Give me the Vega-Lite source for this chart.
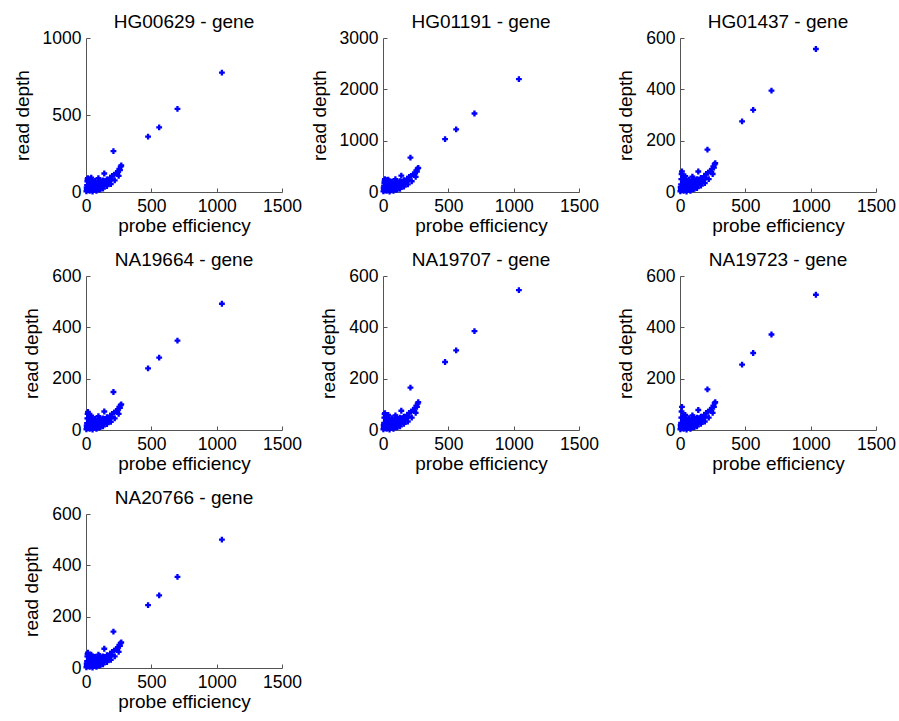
{
"$schema": "https://vega.github.io/schema/vega-lite/v6.json",
"background": "white",
"padding": {"left": 13, "top": 13, "right": 5, "bottom": 5},
"data": {"values": [
{"s":"HG00629","pe":3,"rd":5},{"s":"HG00629","pe":6,"rd":18},{"s":"HG00629","pe":8,"rd":45},{"s":"HG00629","pe":10,"rd":70},{"s":"HG00629","pe":12,"rd":85},{"s":"HG00629","pe":15,"rd":90},{"s":"HG00629","pe":15,"rd":12},{"s":"HG00629","pe":20,"rd":30},{"s":"HG00629","pe":22,"rd":60},{"s":"HG00629","pe":25,"rd":80},{"s":"HG00629","pe":28,"rd":8},{"s":"HG00629","pe":30,"rd":42},{"s":"HG00629","pe":35,"rd":68},{"s":"HG00629","pe":38,"rd":22},{"s":"HG00629","pe":45,"rd":45},{"s":"HG00629","pe":48,"rd":75},{"s":"HG00629","pe":55,"rd":15},{"s":"HG00629","pe":58,"rd":57},{"s":"HG00629","pe":65,"rd":33},{"s":"HG00629","pe":70,"rd":72},{"s":"HG00629","pe":78,"rd":48},{"s":"HG00629","pe":85,"rd":22},{"s":"HG00629","pe":90,"rd":68},{"s":"HG00629","pe":100,"rd":42},{"s":"HG00629","pe":105,"rd":78},{"s":"HG00629","pe":115,"rd":57},{"s":"HG00629","pe":125,"rd":33},{"s":"HG00629","pe":130,"rd":75},{"s":"HG00629","pe":140,"rd":120},{"s":"HG00629","pe":145,"rd":60},{"s":"HG00629","pe":160,"rd":82},{"s":"HG00629","pe":175,"rd":72},{"s":"HG00629","pe":185,"rd":93},{"s":"HG00629","pe":200,"rd":105},{"s":"HG00629","pe":215,"rd":112},{"s":"HG00629","pe":230,"rd":123},{"s":"HG00629","pe":245,"rd":135},{"s":"HG00629","pe":255,"rd":150},{"s":"HG00629","pe":265,"rd":165},{"s":"HG00629","pe":270,"rd":172},{"s":"HG00629","pe":40,"rd":93},{"s":"HG00629","pe":60,"rd":12},{"s":"HG00629","pe":95,"rd":90},{"s":"HG00629","pe":110,"rd":18},{"s":"HG00629","pe":50,"rd":3},{"s":"HG00629","pe":80,"rd":8},{"s":"HG00629","pe":100,"rd":15},{"s":"HG00629","pe":130,"rd":22},{"s":"HG00629","pe":160,"rd":38},{"s":"HG00629","pe":190,"rd":52},{"s":"HG00629","pe":220,"rd":75},{"s":"HG00629","pe":250,"rd":105},
{"s":"HG00629","pe":5,"rd":30},{"s":"HG00629","pe":18,"rd":75},{"s":"HG00629","pe":32,"rd":82},{"s":"HG00629","pe":42,"rd":57},{"s":"HG00629","pe":52,"rd":38},{"s":"HG00629","pe":62,"rd":63},{"s":"HG00629","pe":72,"rd":18},{"s":"HG00629","pe":75,"rd":57},{"s":"HG00629","pe":88,"rd":42},{"s":"HG00629","pe":98,"rd":60},{"s":"HG00629","pe":108,"rd":33},{"s":"HG00629","pe":120,"rd":68},{"s":"HG00629","pe":135,"rd":45},{"s":"HG00629","pe":150,"rd":72},{"s":"HG00629","pe":170,"rd":57},{"s":"HG00629","pe":195,"rd":82},{"s":"HG00629","pe":240,"rd":117},{"s":"HG00629","pe":260,"rd":142},
{"s":"HG00629","pe":210,"rd":265},{"s":"HG00629","pe":475,"rd":360},{"s":"HG00629","pe":560,"rd":420},{"s":"HG00629","pe":700,"rd":540},{"s":"HG00629","pe":1040,"rd":775},
{"s":"HG01191","pe":3,"rd":12},{"s":"HG01191","pe":6,"rd":50},{"s":"HG01191","pe":8,"rd":125},{"s":"HG01191","pe":10,"rd":180},{"s":"HG01191","pe":12,"rd":220},{"s":"HG01191","pe":15,"rd":250},{"s":"HG01191","pe":15,"rd":34},{"s":"HG01191","pe":20,"rd":84},{"s":"HG01191","pe":22,"rd":168},{"s":"HG01191","pe":25,"rd":220},{"s":"HG01191","pe":28,"rd":21},{"s":"HG01191","pe":30,"rd":118},{"s":"HG01191","pe":35,"rd":189},{"s":"HG01191","pe":38,"rd":63},{"s":"HG01191","pe":45,"rd":126},{"s":"HG01191","pe":48,"rd":210},{"s":"HG01191","pe":55,"rd":42},{"s":"HG01191","pe":58,"rd":160},{"s":"HG01191","pe":65,"rd":92},{"s":"HG01191","pe":70,"rd":200},{"s":"HG01191","pe":78,"rd":134},{"s":"HG01191","pe":85,"rd":63},{"s":"HG01191","pe":90,"rd":189},{"s":"HG01191","pe":100,"rd":118},{"s":"HG01191","pe":105,"rd":218},{"s":"HG01191","pe":115,"rd":160},{"s":"HG01191","pe":125,"rd":92},{"s":"HG01191","pe":130,"rd":210},{"s":"HG01191","pe":140,"rd":320},{"s":"HG01191","pe":145,"rd":168},{"s":"HG01191","pe":160,"rd":231},{"s":"HG01191","pe":175,"rd":200},{"s":"HG01191","pe":185,"rd":260},{"s":"HG01191","pe":200,"rd":294},{"s":"HG01191","pe":215,"rd":315},{"s":"HG01191","pe":230,"rd":344},{"s":"HG01191","pe":245,"rd":378},{"s":"HG01191","pe":255,"rd":420},{"s":"HG01191","pe":265,"rd":454},{"s":"HG01191","pe":270,"rd":470},{"s":"HG01191","pe":40,"rd":240},{"s":"HG01191","pe":60,"rd":34},{"s":"HG01191","pe":95,"rd":252},{"s":"HG01191","pe":110,"rd":50},{"s":"HG01191","pe":50,"rd":8},{"s":"HG01191","pe":80,"rd":21},{"s":"HG01191","pe":100,"rd":42},{"s":"HG01191","pe":130,"rd":63},{"s":"HG01191","pe":160,"rd":105},{"s":"HG01191","pe":190,"rd":147},{"s":"HG01191","pe":220,"rd":210},{"s":"HG01191","pe":250,"rd":294},
{"s":"HG01191","pe":5,"rd":84},{"s":"HG01191","pe":18,"rd":210},{"s":"HG01191","pe":32,"rd":231},{"s":"HG01191","pe":42,"rd":160},{"s":"HG01191","pe":52,"rd":105},{"s":"HG01191","pe":62,"rd":176},{"s":"HG01191","pe":72,"rd":50},{"s":"HG01191","pe":75,"rd":160},{"s":"HG01191","pe":88,"rd":118},{"s":"HG01191","pe":98,"rd":168},{"s":"HG01191","pe":108,"rd":92},{"s":"HG01191","pe":120,"rd":189},{"s":"HG01191","pe":135,"rd":126},{"s":"HG01191","pe":150,"rd":202},{"s":"HG01191","pe":170,"rd":160},{"s":"HG01191","pe":195,"rd":231},{"s":"HG01191","pe":240,"rd":328},{"s":"HG01191","pe":260,"rd":399},
{"s":"HG01191","pe":210,"rd":670},{"s":"HG01191","pe":475,"rd":1030},{"s":"HG01191","pe":560,"rd":1220},{"s":"HG01191","pe":700,"rd":1530},{"s":"HG01191","pe":1040,"rd":2200},
{"s":"HG01437","pe":3,"rd":3},{"s":"HG01437","pe":6,"rd":12},{"s":"HG01437","pe":8,"rd":30},{"s":"HG01437","pe":10,"rd":50},{"s":"HG01437","pe":12,"rd":70},{"s":"HG01437","pe":15,"rd":80},{"s":"HG01437","pe":15,"rd":8},{"s":"HG01437","pe":20,"rd":20},{"s":"HG01437","pe":22,"rd":40},{"s":"HG01437","pe":25,"rd":60},{"s":"HG01437","pe":28,"rd":5},{"s":"HG01437","pe":30,"rd":28},{"s":"HG01437","pe":35,"rd":45},{"s":"HG01437","pe":38,"rd":15},{"s":"HG01437","pe":45,"rd":30},{"s":"HG01437","pe":48,"rd":50},{"s":"HG01437","pe":55,"rd":10},{"s":"HG01437","pe":58,"rd":38},{"s":"HG01437","pe":65,"rd":22},{"s":"HG01437","pe":70,"rd":48},{"s":"HG01437","pe":78,"rd":32},{"s":"HG01437","pe":85,"rd":15},{"s":"HG01437","pe":90,"rd":45},{"s":"HG01437","pe":100,"rd":28},{"s":"HG01437","pe":105,"rd":52},{"s":"HG01437","pe":115,"rd":38},{"s":"HG01437","pe":125,"rd":22},{"s":"HG01437","pe":130,"rd":50},{"s":"HG01437","pe":140,"rd":80},{"s":"HG01437","pe":145,"rd":40},{"s":"HG01437","pe":160,"rd":55},{"s":"HG01437","pe":175,"rd":48},{"s":"HG01437","pe":185,"rd":62},{"s":"HG01437","pe":200,"rd":70},{"s":"HG01437","pe":215,"rd":75},{"s":"HG01437","pe":230,"rd":82},{"s":"HG01437","pe":245,"rd":90},{"s":"HG01437","pe":255,"rd":100},{"s":"HG01437","pe":265,"rd":108},{"s":"HG01437","pe":270,"rd":112},{"s":"HG01437","pe":40,"rd":62},{"s":"HG01437","pe":60,"rd":8},{"s":"HG01437","pe":95,"rd":60},{"s":"HG01437","pe":110,"rd":12},{"s":"HG01437","pe":50,"rd":2},{"s":"HG01437","pe":80,"rd":5},{"s":"HG01437","pe":100,"rd":10},{"s":"HG01437","pe":130,"rd":15},{"s":"HG01437","pe":160,"rd":25},{"s":"HG01437","pe":190,"rd":35},{"s":"HG01437","pe":220,"rd":50},{"s":"HG01437","pe":250,"rd":70},
{"s":"HG01437","pe":5,"rd":20},{"s":"HG01437","pe":18,"rd":50},{"s":"HG01437","pe":32,"rd":55},{"s":"HG01437","pe":42,"rd":38},{"s":"HG01437","pe":52,"rd":25},{"s":"HG01437","pe":62,"rd":42},{"s":"HG01437","pe":72,"rd":12},{"s":"HG01437","pe":75,"rd":38},{"s":"HG01437","pe":88,"rd":28},{"s":"HG01437","pe":98,"rd":40},{"s":"HG01437","pe":108,"rd":22},{"s":"HG01437","pe":120,"rd":45},{"s":"HG01437","pe":135,"rd":30},{"s":"HG01437","pe":150,"rd":48},{"s":"HG01437","pe":170,"rd":38},{"s":"HG01437","pe":195,"rd":55},{"s":"HG01437","pe":240,"rd":78},{"s":"HG01437","pe":260,"rd":95},
{"s":"HG01437","pe":210,"rd":165},{"s":"HG01437","pe":475,"rd":275},{"s":"HG01437","pe":560,"rd":320},{"s":"HG01437","pe":700,"rd":395},{"s":"HG01437","pe":1040,"rd":557},
{"s":"NA19664","pe":3,"rd":3},{"s":"NA19664","pe":6,"rd":11},{"s":"NA19664","pe":8,"rd":27},{"s":"NA19664","pe":10,"rd":45},{"s":"NA19664","pe":12,"rd":63},{"s":"NA19664","pe":15,"rd":70},{"s":"NA19664","pe":15,"rd":7},{"s":"NA19664","pe":20,"rd":18},{"s":"NA19664","pe":22,"rd":36},{"s":"NA19664","pe":25,"rd":54},{"s":"NA19664","pe":28,"rd":5},{"s":"NA19664","pe":30,"rd":25},{"s":"NA19664","pe":35,"rd":40},{"s":"NA19664","pe":38,"rd":14},{"s":"NA19664","pe":45,"rd":27},{"s":"NA19664","pe":48,"rd":45},{"s":"NA19664","pe":55,"rd":9},{"s":"NA19664","pe":58,"rd":34},{"s":"NA19664","pe":65,"rd":20},{"s":"NA19664","pe":70,"rd":43},{"s":"NA19664","pe":78,"rd":29},{"s":"NA19664","pe":85,"rd":14},{"s":"NA19664","pe":90,"rd":40},{"s":"NA19664","pe":100,"rd":25},{"s":"NA19664","pe":105,"rd":47},{"s":"NA19664","pe":115,"rd":34},{"s":"NA19664","pe":125,"rd":20},{"s":"NA19664","pe":130,"rd":45},{"s":"NA19664","pe":140,"rd":72},{"s":"NA19664","pe":145,"rd":36},{"s":"NA19664","pe":160,"rd":50},{"s":"NA19664","pe":175,"rd":43},{"s":"NA19664","pe":185,"rd":56},{"s":"NA19664","pe":200,"rd":63},{"s":"NA19664","pe":215,"rd":68},{"s":"NA19664","pe":230,"rd":74},{"s":"NA19664","pe":245,"rd":81},{"s":"NA19664","pe":255,"rd":90},{"s":"NA19664","pe":265,"rd":97},{"s":"NA19664","pe":270,"rd":100},{"s":"NA19664","pe":40,"rd":56},{"s":"NA19664","pe":60,"rd":7},{"s":"NA19664","pe":95,"rd":54},{"s":"NA19664","pe":110,"rd":11},{"s":"NA19664","pe":50,"rd":2},{"s":"NA19664","pe":80,"rd":5},{"s":"NA19664","pe":100,"rd":9},{"s":"NA19664","pe":130,"rd":14},{"s":"NA19664","pe":160,"rd":23},{"s":"NA19664","pe":190,"rd":32},{"s":"NA19664","pe":220,"rd":45},{"s":"NA19664","pe":250,"rd":63},
{"s":"NA19664","pe":5,"rd":18},{"s":"NA19664","pe":18,"rd":45},{"s":"NA19664","pe":32,"rd":50},{"s":"NA19664","pe":42,"rd":34},{"s":"NA19664","pe":52,"rd":23},{"s":"NA19664","pe":62,"rd":38},{"s":"NA19664","pe":72,"rd":11},{"s":"NA19664","pe":75,"rd":34},{"s":"NA19664","pe":88,"rd":25},{"s":"NA19664","pe":98,"rd":36},{"s":"NA19664","pe":108,"rd":20},{"s":"NA19664","pe":120,"rd":41},{"s":"NA19664","pe":135,"rd":27},{"s":"NA19664","pe":150,"rd":43},{"s":"NA19664","pe":170,"rd":34},{"s":"NA19664","pe":195,"rd":50},{"s":"NA19664","pe":240,"rd":70},{"s":"NA19664","pe":260,"rd":86},
{"s":"NA19664","pe":210,"rd":148},{"s":"NA19664","pe":475,"rd":240},{"s":"NA19664","pe":560,"rd":282},{"s":"NA19664","pe":700,"rd":348},{"s":"NA19664","pe":1040,"rd":492},
{"s":"NA19707","pe":3,"rd":3},{"s":"NA19707","pe":6,"rd":11},{"s":"NA19707","pe":8,"rd":28},{"s":"NA19707","pe":10,"rd":48},{"s":"NA19707","pe":12,"rd":62},{"s":"NA19707","pe":15,"rd":66},{"s":"NA19707","pe":15,"rd":8},{"s":"NA19707","pe":20,"rd":19},{"s":"NA19707","pe":22,"rd":38},{"s":"NA19707","pe":25,"rd":57},{"s":"NA19707","pe":28,"rd":5},{"s":"NA19707","pe":30,"rd":27},{"s":"NA19707","pe":35,"rd":43},{"s":"NA19707","pe":38,"rd":14},{"s":"NA19707","pe":45,"rd":28},{"s":"NA19707","pe":48,"rd":48},{"s":"NA19707","pe":55,"rd":10},{"s":"NA19707","pe":58,"rd":36},{"s":"NA19707","pe":65,"rd":21},{"s":"NA19707","pe":70,"rd":46},{"s":"NA19707","pe":78,"rd":30},{"s":"NA19707","pe":85,"rd":14},{"s":"NA19707","pe":90,"rd":43},{"s":"NA19707","pe":100,"rd":27},{"s":"NA19707","pe":105,"rd":49},{"s":"NA19707","pe":115,"rd":36},{"s":"NA19707","pe":125,"rd":21},{"s":"NA19707","pe":130,"rd":48},{"s":"NA19707","pe":140,"rd":75},{"s":"NA19707","pe":145,"rd":38},{"s":"NA19707","pe":160,"rd":52},{"s":"NA19707","pe":175,"rd":46},{"s":"NA19707","pe":185,"rd":59},{"s":"NA19707","pe":200,"rd":67},{"s":"NA19707","pe":215,"rd":71},{"s":"NA19707","pe":230,"rd":78},{"s":"NA19707","pe":245,"rd":86},{"s":"NA19707","pe":255,"rd":95},{"s":"NA19707","pe":265,"rd":103},{"s":"NA19707","pe":270,"rd":108},{"s":"NA19707","pe":40,"rd":59},{"s":"NA19707","pe":60,"rd":8},{"s":"NA19707","pe":95,"rd":57},{"s":"NA19707","pe":110,"rd":11},{"s":"NA19707","pe":50,"rd":2},{"s":"NA19707","pe":80,"rd":5},{"s":"NA19707","pe":100,"rd":10},{"s":"NA19707","pe":130,"rd":14},{"s":"NA19707","pe":160,"rd":24},{"s":"NA19707","pe":190,"rd":33},{"s":"NA19707","pe":220,"rd":48},{"s":"NA19707","pe":250,"rd":67},
{"s":"NA19707","pe":5,"rd":19},{"s":"NA19707","pe":18,"rd":48},{"s":"NA19707","pe":32,"rd":52},{"s":"NA19707","pe":42,"rd":36},{"s":"NA19707","pe":52,"rd":24},{"s":"NA19707","pe":62,"rd":40},{"s":"NA19707","pe":72,"rd":11},{"s":"NA19707","pe":75,"rd":36},{"s":"NA19707","pe":88,"rd":27},{"s":"NA19707","pe":98,"rd":38},{"s":"NA19707","pe":108,"rd":21},{"s":"NA19707","pe":120,"rd":43},{"s":"NA19707","pe":135,"rd":29},{"s":"NA19707","pe":150,"rd":46},{"s":"NA19707","pe":170,"rd":36},{"s":"NA19707","pe":195,"rd":52},{"s":"NA19707","pe":240,"rd":74},{"s":"NA19707","pe":260,"rd":90},
{"s":"NA19707","pe":210,"rd":165},{"s":"NA19707","pe":475,"rd":265},{"s":"NA19707","pe":560,"rd":310},{"s":"NA19707","pe":700,"rd":385},{"s":"NA19707","pe":1040,"rd":545},
{"s":"NA19723","pe":3,"rd":3},{"s":"NA19723","pe":6,"rd":11},{"s":"NA19723","pe":8,"rd":28},{"s":"NA19723","pe":10,"rd":48},{"s":"NA19723","pe":12,"rd":72},{"s":"NA19723","pe":15,"rd":90},{"s":"NA19723","pe":15,"rd":8},{"s":"NA19723","pe":20,"rd":19},{"s":"NA19723","pe":22,"rd":38},{"s":"NA19723","pe":25,"rd":57},{"s":"NA19723","pe":28,"rd":5},{"s":"NA19723","pe":30,"rd":27},{"s":"NA19723","pe":35,"rd":43},{"s":"NA19723","pe":38,"rd":14},{"s":"NA19723","pe":45,"rd":28},{"s":"NA19723","pe":48,"rd":48},{"s":"NA19723","pe":55,"rd":10},{"s":"NA19723","pe":58,"rd":36},{"s":"NA19723","pe":65,"rd":21},{"s":"NA19723","pe":70,"rd":46},{"s":"NA19723","pe":78,"rd":30},{"s":"NA19723","pe":85,"rd":14},{"s":"NA19723","pe":90,"rd":43},{"s":"NA19723","pe":100,"rd":27},{"s":"NA19723","pe":105,"rd":49},{"s":"NA19723","pe":115,"rd":36},{"s":"NA19723","pe":125,"rd":21},{"s":"NA19723","pe":130,"rd":48},{"s":"NA19723","pe":140,"rd":78},{"s":"NA19723","pe":145,"rd":38},{"s":"NA19723","pe":160,"rd":52},{"s":"NA19723","pe":175,"rd":46},{"s":"NA19723","pe":185,"rd":59},{"s":"NA19723","pe":200,"rd":67},{"s":"NA19723","pe":215,"rd":71},{"s":"NA19723","pe":230,"rd":78},{"s":"NA19723","pe":245,"rd":86},{"s":"NA19723","pe":255,"rd":95},{"s":"NA19723","pe":265,"rd":105},{"s":"NA19723","pe":270,"rd":108},{"s":"NA19723","pe":40,"rd":59},{"s":"NA19723","pe":60,"rd":8},{"s":"NA19723","pe":95,"rd":57},{"s":"NA19723","pe":110,"rd":11},{"s":"NA19723","pe":50,"rd":2},{"s":"NA19723","pe":80,"rd":5},{"s":"NA19723","pe":100,"rd":10},{"s":"NA19723","pe":130,"rd":14},{"s":"NA19723","pe":160,"rd":24},{"s":"NA19723","pe":190,"rd":33},{"s":"NA19723","pe":220,"rd":48},{"s":"NA19723","pe":250,"rd":67},
{"s":"NA19723","pe":5,"rd":19},{"s":"NA19723","pe":18,"rd":48},{"s":"NA19723","pe":32,"rd":52},{"s":"NA19723","pe":42,"rd":36},{"s":"NA19723","pe":52,"rd":24},{"s":"NA19723","pe":62,"rd":40},{"s":"NA19723","pe":72,"rd":11},{"s":"NA19723","pe":75,"rd":36},{"s":"NA19723","pe":88,"rd":27},{"s":"NA19723","pe":98,"rd":38},{"s":"NA19723","pe":108,"rd":21},{"s":"NA19723","pe":120,"rd":43},{"s":"NA19723","pe":135,"rd":29},{"s":"NA19723","pe":150,"rd":46},{"s":"NA19723","pe":170,"rd":36},{"s":"NA19723","pe":195,"rd":52},{"s":"NA19723","pe":240,"rd":74},{"s":"NA19723","pe":260,"rd":90},
{"s":"NA19723","pe":210,"rd":158},{"s":"NA19723","pe":475,"rd":255},{"s":"NA19723","pe":560,"rd":300},{"s":"NA19723","pe":700,"rd":372},{"s":"NA19723","pe":1040,"rd":527},
{"s":"NA20766","pe":3,"rd":3},{"s":"NA20766","pe":6,"rd":11},{"s":"NA20766","pe":8,"rd":27},{"s":"NA20766","pe":10,"rd":45},{"s":"NA20766","pe":12,"rd":55},{"s":"NA20766","pe":15,"rd":60},{"s":"NA20766","pe":15,"rd":7},{"s":"NA20766","pe":20,"rd":18},{"s":"NA20766","pe":22,"rd":36},{"s":"NA20766","pe":25,"rd":50},{"s":"NA20766","pe":28,"rd":5},{"s":"NA20766","pe":30,"rd":25},{"s":"NA20766","pe":35,"rd":40},{"s":"NA20766","pe":38,"rd":14},{"s":"NA20766","pe":45,"rd":27},{"s":"NA20766","pe":48,"rd":45},{"s":"NA20766","pe":55,"rd":9},{"s":"NA20766","pe":58,"rd":34},{"s":"NA20766","pe":65,"rd":20},{"s":"NA20766","pe":70,"rd":43},{"s":"NA20766","pe":78,"rd":29},{"s":"NA20766","pe":85,"rd":14},{"s":"NA20766","pe":90,"rd":40},{"s":"NA20766","pe":100,"rd":25},{"s":"NA20766","pe":105,"rd":47},{"s":"NA20766","pe":115,"rd":34},{"s":"NA20766","pe":125,"rd":20},{"s":"NA20766","pe":130,"rd":45},{"s":"NA20766","pe":140,"rd":75},{"s":"NA20766","pe":145,"rd":36},{"s":"NA20766","pe":160,"rd":50},{"s":"NA20766","pe":175,"rd":43},{"s":"NA20766","pe":185,"rd":56},{"s":"NA20766","pe":200,"rd":63},{"s":"NA20766","pe":215,"rd":68},{"s":"NA20766","pe":230,"rd":74},{"s":"NA20766","pe":245,"rd":81},{"s":"NA20766","pe":255,"rd":90},{"s":"NA20766","pe":265,"rd":97},{"s":"NA20766","pe":270,"rd":100},{"s":"NA20766","pe":40,"rd":52},{"s":"NA20766","pe":60,"rd":7},{"s":"NA20766","pe":95,"rd":52},{"s":"NA20766","pe":110,"rd":11},{"s":"NA20766","pe":50,"rd":2},{"s":"NA20766","pe":80,"rd":5},{"s":"NA20766","pe":100,"rd":9},{"s":"NA20766","pe":130,"rd":14},{"s":"NA20766","pe":160,"rd":23},{"s":"NA20766","pe":190,"rd":32},{"s":"NA20766","pe":220,"rd":45},{"s":"NA20766","pe":250,"rd":63},
{"s":"NA20766","pe":5,"rd":18},{"s":"NA20766","pe":18,"rd":45},{"s":"NA20766","pe":32,"rd":48},{"s":"NA20766","pe":42,"rd":34},{"s":"NA20766","pe":52,"rd":23},{"s":"NA20766","pe":62,"rd":38},{"s":"NA20766","pe":72,"rd":11},{"s":"NA20766","pe":75,"rd":34},{"s":"NA20766","pe":88,"rd":25},{"s":"NA20766","pe":98,"rd":36},{"s":"NA20766","pe":108,"rd":20},{"s":"NA20766","pe":120,"rd":41},{"s":"NA20766","pe":135,"rd":27},{"s":"NA20766","pe":150,"rd":43},{"s":"NA20766","pe":170,"rd":34},{"s":"NA20766","pe":195,"rd":50},{"s":"NA20766","pe":240,"rd":70},{"s":"NA20766","pe":260,"rd":86},
{"s":"NA20766","pe":210,"rd":142},{"s":"NA20766","pe":475,"rd":245},{"s":"NA20766","pe":560,"rd":283},{"s":"NA20766","pe":700,"rd":355},{"s":"NA20766","pe":1040,"rd":500}
]},
"columns": 3,
"bounds": "flush",
"spacing": {"row": 84, "column": 101},
"concat": [
{"title": "HG00629 - gene", "width": 196, "height": 154, "transform": [{"filter": "datum.s == 'HG00629'"}], "mark": {"type": "point", "shape": "cross", "filled": true, "size": 34, "color": "#0000ff", "opacity": 1}, "encoding": {"x": {"field": "pe", "type": "quantitative", "scale": {"domain": [0, 1500], "nice": false}, "axis": {"values": [0, 500, 1000, 1500], "title": "probe efficiency"}}, "y": {"field": "rd", "type": "quantitative", "scale": {"domain": [0, 1000], "nice": false}, "axis": {"values": [0, 500, 1000], "title": "read depth"}}}},
{"title": "HG01191 - gene", "width": 196, "height": 154, "transform": [{"filter": "datum.s == 'HG01191'"}], "mark": {"type": "point", "shape": "cross", "filled": true, "size": 34, "color": "#0000ff", "opacity": 1}, "encoding": {"x": {"field": "pe", "type": "quantitative", "scale": {"domain": [0, 1500], "nice": false}, "axis": {"values": [0, 500, 1000, 1500], "title": "probe efficiency"}}, "y": {"field": "rd", "type": "quantitative", "scale": {"domain": [0, 3000], "nice": false}, "axis": {"values": [0, 1000, 2000, 3000], "title": "read depth"}}}},
{"title": "HG01437 - gene", "width": 196, "height": 154, "transform": [{"filter": "datum.s == 'HG01437'"}], "mark": {"type": "point", "shape": "cross", "filled": true, "size": 34, "color": "#0000ff", "opacity": 1}, "encoding": {"x": {"field": "pe", "type": "quantitative", "scale": {"domain": [0, 1500], "nice": false}, "axis": {"values": [0, 500, 1000, 1500], "title": "probe efficiency"}}, "y": {"field": "rd", "type": "quantitative", "scale": {"domain": [0, 600], "nice": false}, "axis": {"values": [0, 200, 400, 600], "title": "read depth"}}}},
{"title": "NA19664 - gene", "width": 196, "height": 154, "transform": [{"filter": "datum.s == 'NA19664'"}], "mark": {"type": "point", "shape": "cross", "filled": true, "size": 34, "color": "#0000ff", "opacity": 1}, "encoding": {"x": {"field": "pe", "type": "quantitative", "scale": {"domain": [0, 1500], "nice": false}, "axis": {"values": [0, 500, 1000, 1500], "title": "probe efficiency"}}, "y": {"field": "rd", "type": "quantitative", "scale": {"domain": [0, 600], "nice": false}, "axis": {"values": [0, 200, 400, 600], "title": "read depth"}}}},
{"title": "NA19707 - gene", "width": 196, "height": 154, "transform": [{"filter": "datum.s == 'NA19707'"}], "mark": {"type": "point", "shape": "cross", "filled": true, "size": 34, "color": "#0000ff", "opacity": 1}, "encoding": {"x": {"field": "pe", "type": "quantitative", "scale": {"domain": [0, 1500], "nice": false}, "axis": {"values": [0, 500, 1000, 1500], "title": "probe efficiency"}}, "y": {"field": "rd", "type": "quantitative", "scale": {"domain": [0, 600], "nice": false}, "axis": {"values": [0, 200, 400, 600], "title": "read depth"}}}},
{"title": "NA19723 - gene", "width": 196, "height": 154, "transform": [{"filter": "datum.s == 'NA19723'"}], "mark": {"type": "point", "shape": "cross", "filled": true, "size": 34, "color": "#0000ff", "opacity": 1}, "encoding": {"x": {"field": "pe", "type": "quantitative", "scale": {"domain": [0, 1500], "nice": false}, "axis": {"values": [0, 500, 1000, 1500], "title": "probe efficiency"}}, "y": {"field": "rd", "type": "quantitative", "scale": {"domain": [0, 600], "nice": false}, "axis": {"values": [0, 200, 400, 600], "title": "read depth"}}}},
{"title": "NA20766 - gene", "width": 196, "height": 154, "transform": [{"filter": "datum.s == 'NA20766'"}], "mark": {"type": "point", "shape": "cross", "filled": true, "size": 34, "color": "#0000ff", "opacity": 1}, "encoding": {"x": {"field": "pe", "type": "quantitative", "scale": {"domain": [0, 1500], "nice": false}, "axis": {"values": [0, 500, 1000, 1500], "title": "probe efficiency"}}, "y": {"field": "rd", "type": "quantitative", "scale": {"domain": [0, 600], "nice": false}, "axis": {"values": [0, 200, 400, 600], "title": "read depth"}}}}
],
"config": {
"font": "Liberation Sans",
"view": {"stroke": null},
"axis": {"grid": false, "format": "d", "domainColor": "#555555", "tickColor": "#555555", "tickSize": -4, "labelPadding": 9, "labelFontSize": 17.5, "labelColor": "#000000", "titleFontSize": 19, "titleFontWeight": "normal", "titleColor": "#000000", "labelFlush": false, "labelOverlap": false},
"axisX": {"titlePadding": 2},
"axisY": {"titlePadding": 10},
"title": {"fontSize": 19, "fontWeight": "normal", "color": "#000000", "offset": -3, "anchor": "middle"}
}
}
